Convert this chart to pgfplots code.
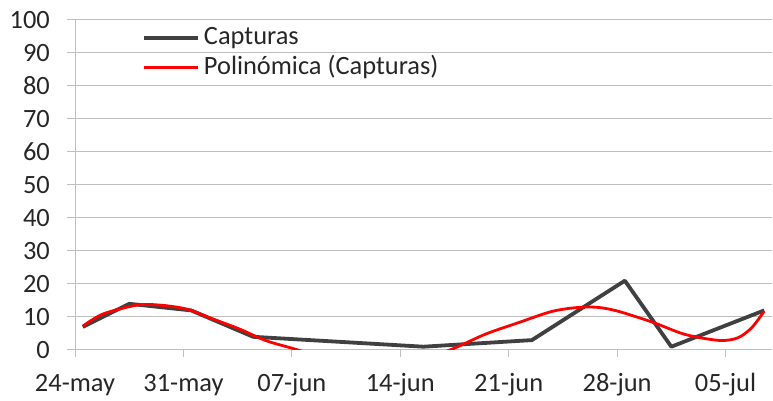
\documentclass[border=0pt]{standalone}
\usepackage{pgfplots}
\pgfplotsset{compat=1.18}
\usepackage{fontspec}
\setmainfont{Carlito}
\definecolor{capt}{HTML}{404040}
\definecolor{gridc}{HTML}{BFBFBF}
\definecolor{txt}{HTML}{262626}
\begin{document}
\begin{tikzpicture}
\useasboundingbox (0,0) rectangle (773bp,401bp);
\begin{axis}[
  at={(75bp,51bp)}, anchor=south west,
  scale only axis, width=697bp, height=330bp,
  xmin=0, xmax=45, ymin=0, ymax=100,
  xtick={0,7,14,21,28,35,42},
  xticklabels={24-may,31-may,07-jun,14-jun,21-jun,28-jun,05-jul},
  ytick={0,10,...,100},
  ymajorgrids, grid style={gridc, line width=1bp},
  axis x line*=bottom, axis y line*=left,
  axis line style={gridc, line width=1bp, -},
  tick style={gridc, line width=1bp},
  tick align=outside, major tick length=7.5bp,
  /pgf/number format/assume math mode=true,
  ticklabel style={font=\fontsize{26.5}{30}\selectfont, text=txt},
  yticklabel style={inner sep=0pt, xshift=-17.5bp},
  xticklabel style={inner sep=0pt, anchor=base, yshift=-34.2bp},
  legend style={at={(axis description cs:0.0961,0.9867)}, anchor=north west,
    draw=none, fill=none, inner sep=0pt, font=\fontsize{26.5}{30}\selectfont, text=txt,
    nodes={inner sep=0pt, text height=20bp, text depth=6.5bp},
    column sep=4bp, row sep=3bp},
  legend cell align=left,
  legend image code/.code={\draw[#1] (0bp,0bp) -- (54bp,0bp);},
]
\addplot[capt, line width=3.8bp, line join=round] coordinates {
  (0.5,7) (3.5,14) (7.5,12) (11.5,4) (22.5,1) (29.5,3) (35.5,21) (38.5,1) (44.5,12)
};
\addlegendentry{Capturas}
\addplot[red, line width=2.8bp, smooth] coordinates {
  (0.5,7.2) (1.8,10.9) (4.0,13.6) (5.5,13.6) (7.2,12.4) (8.9,9.4) (10.6,6.4)
  (12.35,2.8) (14.4,0) (17,-4) (19.5,-5) (22,-3) (24.2,0) (26.5,4.8) (28.7,8.4)
  (30.8,11.7) (32.5,12.9) (33.8,12.9) (35.1,11.7) (37.3,8.4) (39.4,4.7)
  (41.6,2.9) (42.8,3.7) (43.7,6.8) (44.5,11.8)
};
\addlegendentry{Polinómica (Capturas)}
\end{axis}
\end{tikzpicture}
\end{document}
